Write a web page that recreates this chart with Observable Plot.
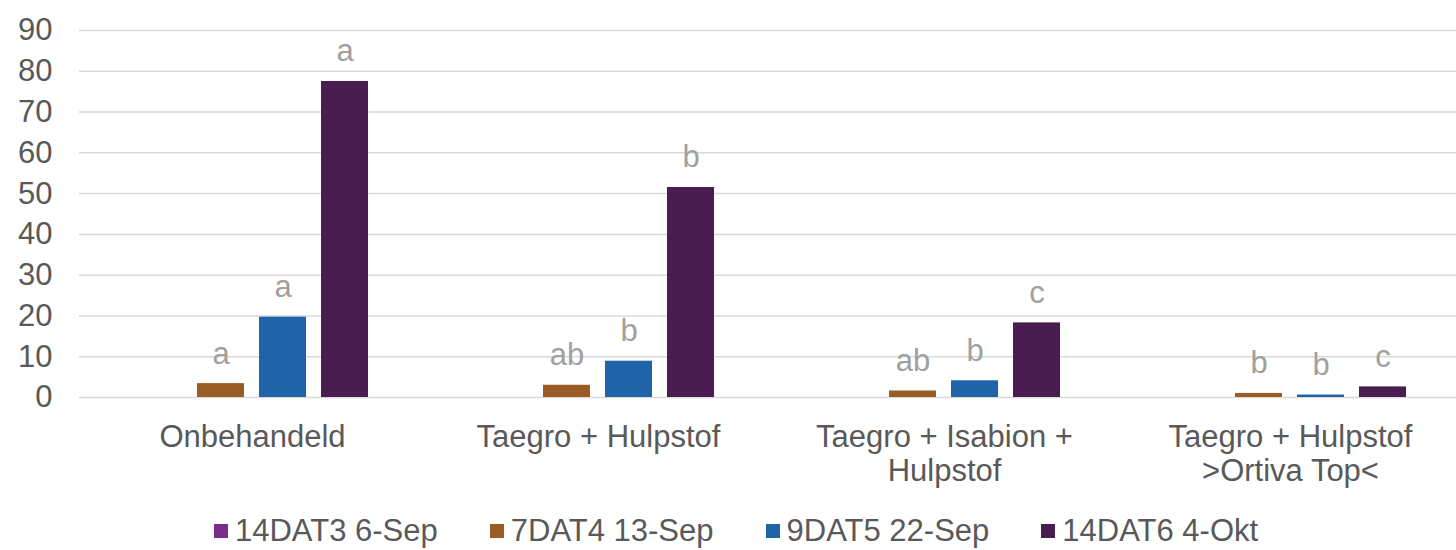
<!DOCTYPE html>
<html>
<head>
<meta charset="utf-8">
<script src="https://cdn.jsdelivr.net/npm/d3@7"></script>
<script src="https://cdn.jsdelivr.net/npm/@observablehq/plot@0.6"></script>
<style>
  html, body { margin: 0; padding: 0; background: #fff; }
  body { width: 1456px; height: 550px; overflow: hidden; font-family: "Liberation Sans", Arial, sans-serif; }
  #legend { display: flex; align-items: center; margin-left: 214px; margin-top: 11px; height: 39px; font-size: 31px; color: #595959; }
  .item { display: flex; align-items: center; margin-right: 52px; white-space: nowrap; }
  .sw { width: 14px; height: 14px; margin-right: 7px; }
</style>
</head>
<body>
<div id="chart"></div>
<div id="legend"></div>
<script>
const groups = ["Onbehandeld", "Taegro + Hulpstof", "Taegro + Isabion + Hulpstof", "Taegro + Hulpstof >Ortiva Top<"];
const groupLabels = ["Onbehandeld", "Taegro + Hulpstof", "Taegro + Isabion +\nHulpstof", "Taegro + Hulpstof\n>Ortiva Top<"];
const series = ["14DAT3 6-Sep", "7DAT4 13-Sep", "9DAT5 22-Sep", "14DAT6 4-Okt"];
const colors = ["#7b2d8e", "#9a5c25", "#1f64a8", "#4a1d50"];
const values14DAT3 = [0, 0, 0, 0];
const values7DAT4 = [3.4, 3.0, 1.6, 1.0];
const values9DAT5 = [19.7, 8.9, 4.1, 0.6];
const values14DAT6 = [77.5, 51.5, 18.3, 2.6];
const letters14DAT3 = ["", "", "", ""];
const letters7DAT4 = ["a", "ab", "ab", "b"];
const letters9DAT5 = ["a", "b", "b", "b"];
const letters14DAT6 = ["a", "b", "c", "c"];
const yTicks = [0, 10, 20, 30, 40, 50, 60, 70, 80, 90];

const allValues = [values14DAT3, values7DAT4, values9DAT5, values14DAT6];
const allLetters = [letters14DAT3, letters7DAT4, letters9DAT5, letters14DAT6];
const data = [];
series.forEach((s, i) => groups.forEach((g, j) => data.push({group: g, series: s, value: allValues[i][j], letter: allLetters[i][j]})));

const chart = Plot.plot({
  width: 1456,
  height: 500,
  marginTop: 30,
  marginBottom: 103,
  marginLeft: 77,
  marginRight: -8,
  style: {fontFamily: "'Liberation Sans', Arial, sans-serif", fontSize: "31px", color: "#595959", background: "white", overflow: "visible"},
  fx: {domain: groups, padding: 0, axis: null},
  x: {domain: series, paddingInner: 0.24, paddingOuter: 0.873, axis: null},
  y: {domain: [0, 90], axis: null},
  color: {domain: series, range: colors},
  marks: [
    Plot.ruleY(yTicks, {stroke: "#d9d9d9", strokeWidth: 1.5}),
    Plot.barY(data, {fx: "group", x: "series", y: "value", fill: "series"}),
    Plot.text(data, {fx: "group", x: "series", y: "value", text: "letter", lineAnchor: "bottom", dy: -20, fill: "#a0a0a0"}),
    Plot.axisY(yTicks, {tickSize: 0, tickPadding: 27, label: null}),
    Plot.axisFx({anchor: "bottom", tickSize: 0, tickPadding: 26, label: null, lineHeight: 1.08, tickFormat: d => groupLabels[groups.indexOf(d)]})
  ]
});
document.getElementById("chart").appendChild(chart);

const legend = document.getElementById("legend");
series.forEach((s, i) => {
  const it = document.createElement("div");
  it.className = "item";
  const sw = document.createElement("span");
  sw.className = "sw";
  sw.style.background = colors[i];
  const t = document.createElement("span");
  t.textContent = s;
  it.appendChild(sw);
  it.appendChild(t);
  legend.appendChild(it);
});
</script>
</body>
</html>
